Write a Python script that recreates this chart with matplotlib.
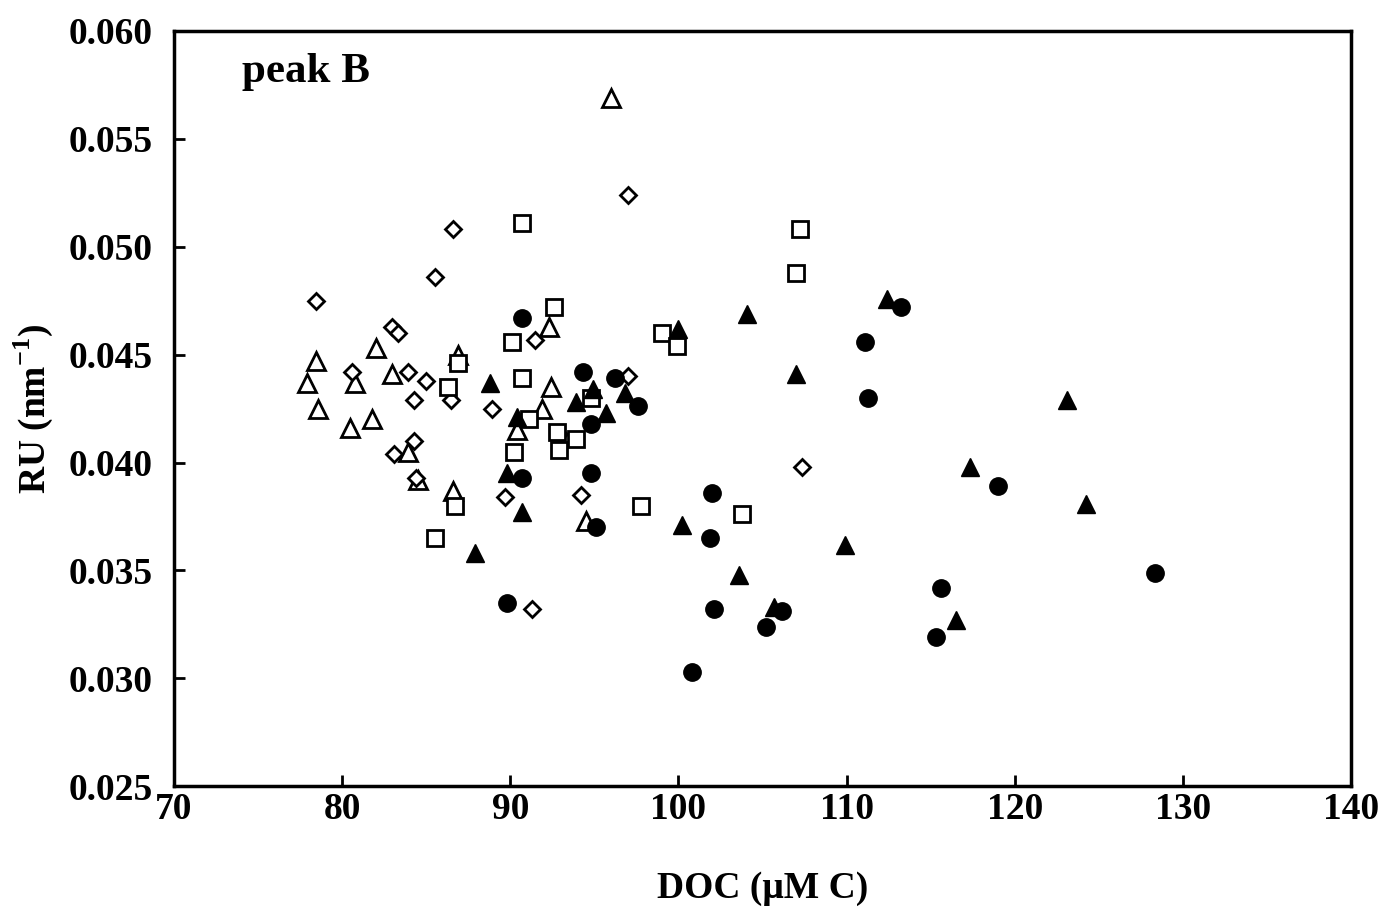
import matplotlib
matplotlib.use("Agg")
import matplotlib.pyplot as plt

plt.rcParams['font.family'] = ['Liberation Serif', 'DejaVu Serif']
plt.rcParams['font.weight'] = 'bold'
plt.rcParams['mathtext.fontset'] = 'custom'
plt.rcParams['mathtext.rm'] = 'Liberation Serif:bold'
plt.rcParams['mathtext.bf'] = 'Liberation Serif:bold'

# open triangles
triOpenX = [96.0, 77.9, 78.45, 78.6, 80.8, 80.5, 81.8, 82.0, 83.0, 83.9, 84.5, 86.9, 86.6,
            92.3, 92.4, 91.9, 90.4, 94.5]
triOpenY = [0.0569, 0.0437, 0.0447, 0.0425, 0.0437, 0.0416, 0.0420, 0.0453, 0.0441, 0.0405, 0.0392,
            0.0450, 0.0387, 0.0463, 0.0435, 0.0425, 0.0415, 0.0373]

# open diamonds
diaX = [78.45, 85.5, 86.6, 97.0, 83.0, 83.3, 80.6, 83.9, 85.0, 84.3, 86.5, 88.9, 84.3, 83.1,
        84.4, 91.5, 97.0, 92.9, 89.7, 94.2, 91.3, 107.35]
diaY = [0.0475, 0.0486, 0.0508, 0.0524, 0.0463, 0.0460, 0.0442, 0.0442, 0.0438, 0.0429, 0.0429,
        0.0425, 0.0410, 0.0404, 0.0393, 0.0457, 0.0440, 0.0413, 0.0384, 0.0385, 0.0332, 0.0398]

# open squares
sqX = [90.7, 92.6, 90.1, 107.2, 107.0, 99.0, 99.9, 86.9, 86.3, 90.7, 94.8, 91.1, 92.8, 93.9,
       92.9, 90.2, 86.7, 85.5, 97.8, 103.8]
sqY = [0.0511, 0.0472, 0.0456, 0.0508, 0.0488, 0.0460, 0.0454, 0.0446, 0.0435, 0.0439, 0.0430,
       0.0420, 0.0414, 0.0411, 0.0406, 0.0405, 0.0380, 0.0365, 0.0380, 0.0376]

# filled triangles
triFillX = [88.8, 87.9, 90.4, 89.8, 90.7, 93.9, 94.9, 95.7, 96.8, 100.0, 104.1, 107.0, 100.2,
            103.6, 105.7, 109.9, 112.4, 123.1, 117.3, 124.2, 116.5]
triFillY = [0.0437, 0.0358, 0.0421, 0.0395, 0.0377, 0.0428, 0.0434, 0.0423, 0.0432, 0.0462, 0.0469,
            0.0441, 0.0371, 0.0348, 0.0333, 0.0362, 0.0476, 0.0429, 0.0398, 0.0381, 0.0327]

# filled circles
cirX = [90.7, 94.35, 96.25, 97.6, 94.8, 94.8, 90.7, 95.1, 89.8, 102.0, 101.9, 102.1, 106.15,
        105.2, 100.8, 113.2, 111.1, 111.25, 119.0, 115.6, 115.3, 128.3]
cirY = [0.0467, 0.0442, 0.0439, 0.0426, 0.0418, 0.0395, 0.0393, 0.0370, 0.0335, 0.0386, 0.0365,
        0.0332, 0.0331, 0.0324, 0.0303, 0.0472, 0.0456, 0.0430, 0.0389, 0.0342, 0.0319, 0.0349]

fig = plt.figure(figsize=(13.79, 9.10), dpi=100)
ax = fig.add_axes([0.126, 0.136, 0.854, 0.830])

ax.plot(triOpenX, triOpenY, '^', ms=13, mfc='white', mec='black', mew=2, ls='none')
ax.plot(diaX, diaY, 'D', ms=8.5, mfc='white', mec='black', mew=2, ls='none')
ax.plot(sqX, sqY, 's', ms=11, mfc='white', mec='black', mew=2, ls='none')
ax.plot(triFillX, triFillY, '^', ms=13, color='black', ls='none')
ax.plot(cirX, cirY, 'o', ms=12.5, color='black', ls='none')

ax.set_xlim(70, 140)
ax.set_ylim(0.025, 0.060)
ax.set_xticks(range(70, 141, 10))
ax.set_yticks([0.025, 0.030, 0.035, 0.040, 0.045, 0.050, 0.055, 0.060])
ax.set_yticklabels(["%.3f" % v for v in ax.get_yticks()])
ax.tick_params(direction='in', length=8, width=2, labelsize=27)
ax.tick_params(axis='x', pad=4)
ax.tick_params(axis='y', pad=15)
for s in ax.spines.values():
    s.set_linewidth(2.5)

ax.set_xlabel(u"DOC (\u03bcM C)", fontsize=27, fontweight='bold', labelpad=32)
ax.set_ylabel(r"RU (nm$^{\mathbf{-1}}$)", fontsize=27, fontweight='bold', labelpad=10)
ax.text(0.058, 0.945, "peak B", transform=ax.transAxes, fontsize=31, fontweight='bold',
        va='center', ha='left')

fig.savefig("out.png", dpi=100)
